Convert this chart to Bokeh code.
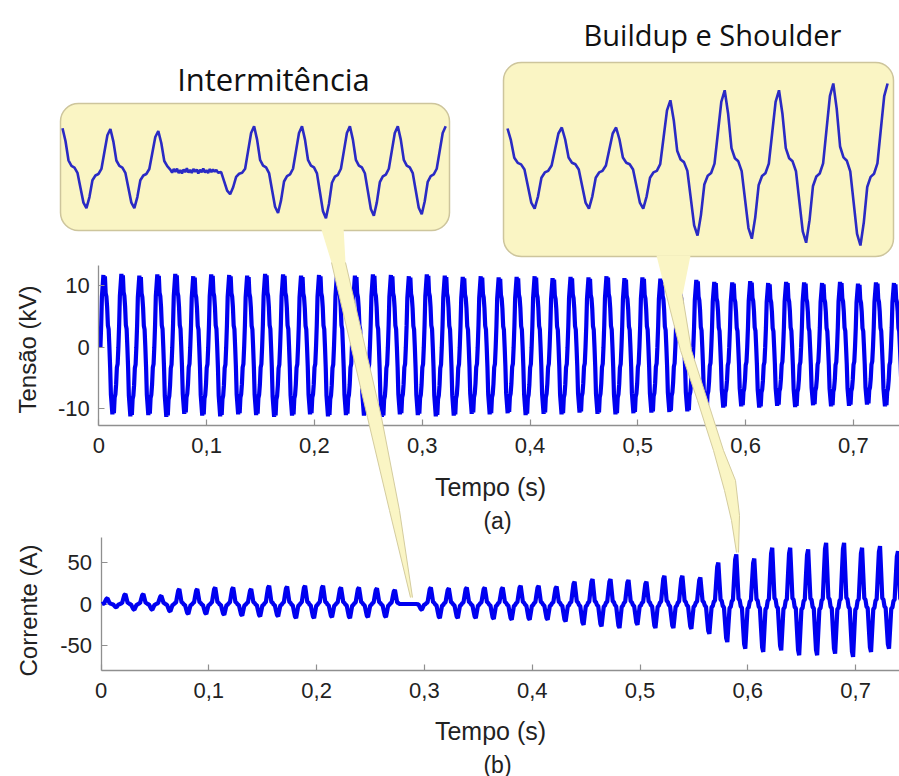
import numpy as np
from bokeh.plotting import figure
from bokeh.models import Range1d, LinearAxis, FixedTicker, Label
from bokeh.embed import file_html
from bokeh.resources import INLINE

W, H = 899, 776

# ------------------------------------------------------------------ data
FREQ = 60.0
TIME_TICKS = [0.0, 0.1, 0.2, 0.3, 0.4, 0.5, 0.6, 0.7]
TIME_TICK_LABELS = ["0", "0,1", "0,2", "0,3", "0,4", "0,5", "0,6", "0,7"]
V_TICKS = [-10, 0, 10]
V_TICK_LABELS = ["-10", "0", "10"]
I_TICKS = [-50, 0, 50]
I_TICK_LABELS = ["-50", "0", "50"]

# voltage: one-cycle shape (normalised) and per-cycle peaks (kV)
V_SHAPE = [0.0, 0.3, 0.7, 0.85, 1.0, 0.8, 0.98, 0.75, 0.7, 0.55, 0.3, 0.25,
           0.0, -0.3, -0.7, -0.85, -1.0, -0.8, -0.98, -0.75, -0.7, -0.55, -0.3, -0.25]
V_POS = [11.7, 11.9, 11.6, 11.8, 11.9, 11.5, 11.8, 11.7, 11.6, 11.9,
         11.8, 11.6, 11.7, 11.9, 11.6, 11.8, 11.7, 11.5, 11.8, 11.6,
         11.4, 11.5, 11.3, 11.4, 11.5, 11.2, 11.4, 11.3, 11.5, 11.2,
         11.3, 11.1, 11.2, 10.9, 10.6, 10.5, 10.7, 10.4, 10.6, 10.5,
         10.4, 10.6, 10.3, 10.5, 10.4, 10.5]
V_NEG = [10.9, 11.2, 11.0, 11.3, 10.8, 11.1, 11.2, 10.9, 11.0, 11.3,
         11.1, 10.9, 11.2, 11.0, 11.1, 11.3, 10.9, 11.0, 11.2, 11.1,
         10.8, 10.9, 10.7, 11.0, 10.8, 10.9, 10.6, 10.8, 10.9, 10.7,
         10.6, 10.5, 10.4, 10.2, 9.8, 9.6, 9.8, 9.5, 9.7, 9.4,
         9.6, 9.5, 9.3, 9.6, 9.4, 9.5]

# current: one-cycle shape (starts at positive peak) and per-cycle peaks (A)
I_SHAPE = [1.0, 0.55, 0.1, 0.08, -0.06, -0.08, -0.5, -0.9,
           -1.0, -0.55, -0.1, -0.08, 0.06, 0.08, 0.5, 0.9]
I_POS = [3, 7, 12, 12, 10, 18, 18, 20, 20, 18,
         22, 21, 22, 22, 20, 20, 19, 17, 0, 20,
         19, 20, 20, 20, 22, 22, 21, 27, 30, 30,
         29, 27, 34, 34, 32, 50, 60, 55, 68, 68,
         66, 74, 74, 68, 70, 64]
I_NEG = [3, 4, 7, 7, 9, 12, 12, 13, 14, 15,
         15, 17, 17, 16, 17, 16, 16, 0, 7, 17,
         17, 17, 18, 19, 19, 19, 21, 25, 27, 29,
         25, 29, 29, 30, 36, 46, 54, 58, 56, 62,
         62, 60, 64, 58, 54, 50]

# callouts: one-cycle shape (starts at positive peak), per-cycle peaks (normalised)
C_SHAPE = [1.0, 0.7, 0.25, 0.12, 0.08, -0.05, -0.45, -0.85,
           -1.0, -0.7, -0.25, -0.12, -0.08, 0.05, 0.45, 0.85]
C1_POS = [1.07, 1.05, 1.0, 0.0, 1.12, 1.12, 1.12, 1.12, 1.12]
C1_NEG = [0.93, 0.93, 0.0, 0.58, 1.05, 1.18, 1.12, 1.08]
C1_FLAT = [0.03, -0.04, 0.05, -0.02, 0.06, -0.05, 0.02, -0.06, 0.04, -0.03,
           0.07, -0.04, 0.03, -0.05, 0.05, -0.02, 0.04, -0.06, 0.03, -0.03,
           0.06, -0.04, 0.02, -0.05, 0.05, -0.03, 0.04, -0.02, 0.03, -0.04]
C2_POS = [0.975, 1.0, 1.0, 1.68, 1.93, 1.93, 2.1, 2.1]
C2_NEG = [1.03, 1.03, 1.03, 1.7, 1.78, 1.88, 1.95]


def build(shape, pos, neg, t0, period):
    n = len(shape)
    t, y = [], []
    for k in range(len(neg)):
        for i, s in enumerate(shape):
            ph = i / n
            if s >= 0:
                amp = pos[min(k + 1, len(pos) - 1)] if ph > 0.5 else pos[k]
            else:
                amp = neg[k]
            t.append(t0 + (k + ph) * period)
            y.append(s * amp)
    if len(pos) > len(neg):
        t.append(t0 + len(neg) * period)
        y.append(shape[0] * pos[len(neg)])
    return np.array(t), np.array(y)


T_END = 0.745
tv, vv = build(V_SHAPE, V_POS, V_NEG, 0.0015, 1 / FREQ)
m = (tv >= 0) & (tv <= T_END)
tv, vv = tv[m], vv[m]
ti, ii = build(I_SHAPE, I_POS, I_NEG, 0.006 - 1 / FREQ, 1 / FREQ)
m = (ti >= 0) & (ti <= T_END)
ti, ii = ti[m], ii[m]

c1x, c1y = build(C_SHAPE, C1_POS, C1_NEG, 0.0, 1.0)
keep = (c1x <= 2.22) | (c1x >= 3.28)
fx = np.linspace(2.22, 3.28, len(C1_FLAT) + 2)[1:-1]
c1x = np.concatenate([c1x[keep], fx])
c1y = np.concatenate([c1y[keep], np.array(C1_FLAT)])
o = np.argsort(c1x)
c1x, c1y = c1x[o], c1y[o]
c2x, c2y = build(C_SHAPE, C2_POS, C2_NEG, 0.0, 1.0)

# ------------------------------------------------------------------ layout anchors (page px)
def xr(a, b):   # page_x = a + b*u
    return Range1d(start=-a / b, end=(W - a) / b)


def yr(a, b):   # page_y = a - b*u
    return Range1d(start=(a - H) / b, end=a / b)


TX0, TXS = 98.3, 1078.0          # top time axis
VY0, VYS = 346.7, 6.17           # voltage axis
BX0, BXS = 100.5, 1078.0         # bottom time axis
IY0, IYS = 603.5, 0.8267         # current axis

p = figure(width=W, height=H, x_range=Range1d(0, W), y_range=Range1d(H, 0),
           x_axis_type=None, y_axis_type=None, toolbar_location=None,
           output_backend="svg", min_border=0, title=None)
p.outline_line_color = None
p.background_fill_color = "white"
p.border_fill_color = "white"

p.extra_x_ranges = {"tt": xr(TX0, TXS), "tb": xr(BX0, BXS),
                    "c1x": xr(62.0, 47.9), "c2x": xr(507.0, 54.3)}
p.extra_y_ranges = {"vv": yr(VY0, VYS), "ii": yr(IY0, IYS),
                    "c1y": yr(170.5, 40.0), "c2y": yr(167.0, 40.0)}

BLUE = "#0000f0"
BOX_FILL = "#faf5c4"
BOX_LINE = "#cdc59c"

# callout boxes
p.quad(left=[60, 503], right=[449, 893], top=[103, 62], bottom=[230, 256],
       fill_color=BOX_FILL, line_color=BOX_LINE, line_width=1.5, border_radius=18)

# callout waveforms
p.line(c1x, c1y, x_range_name="c1x", y_range_name="c1y",
       line_color="#2a2ac4", line_width=2.6)
p.line(c2x, c2y, x_range_name="c2x", y_range_name="c2y",
       line_color="#2a2ac4", line_width=2.6)

# top panel waveform
p.line(tv, vv, x_range_name="tt", y_range_name="vv", line_color=BLUE, line_width=4.2)

# pointers
P1L = ([320, 331, 367, 389, 410], [226, 262, 417, 510, 597])
P1R = ([412, 399, 381, 345, 343], [597, 510, 417, 262, 226])
P2L = ([656, 663, 680, 697, 713, 724, 731, 736], [255, 283, 350, 400, 450, 490, 520, 552])
P2R = ([738, 739, 735, 723, 707, 691, 682, 690], [552, 515, 480, 450, 400, 350, 295, 255])
for L, R in ((P1L, P1R), (P2L, P2R)):
    r = p.patch(L[0] + R[0], L[1] + R[1], fill_color=BOX_FILL, line_color=None)
    r.level = "annotation"
    for e in (L, R):
        r = p.line(e[0][1:] if e is L else e[0][:-1], e[1][1:] if e is L else e[1][:-1],
                   line_color="#d4cc9e", line_width=1)
        r.level = "annotation"

# bottom panel waveform
r = p.line(ti, ii, x_range_name="tb", y_range_name="ii", line_color=BLUE, line_width=4.2)
r.level = "annotation"

# ------------------------------------------------------------------ axes
AX_COL = "#8f8f8f"
TXT_COL = "#222222"


def style(ax, standoff):
    ax.axis_line_color = AX_COL
    ax.axis_line_width = 1.3
    ax.major_tick_line_color = AX_COL
    ax.major_tick_line_width = 1.2
    ax.major_tick_in = 6
    ax.major_tick_out = 0
    ax.minor_tick_line_color = None
    ax.major_label_text_font = "Liberation Sans"
    ax.major_label_text_font_size = "22px"
    ax.major_label_text_color = TXT_COL
    ax.major_label_standoff = standoff


v_lo, v_hi = (VY0 - 425) / VYS, (VY0 - 265) / VYS
i_lo, i_hi = (IY0 - 670) / IYS, (IY0 - 537) / IYS

ay1 = LinearAxis(x_range_name="tt", y_range_name="vv", fixed_location=0.0,
                 bounds=(v_lo, v_hi), ticker=FixedTicker(ticks=V_TICKS),
                 major_label_overrides=dict(zip(V_TICKS, V_TICK_LABELS)))
style(ay1, 9)
p.add_layout(ay1, "left")
ax1 = LinearAxis(x_range_name="tt", y_range_name="vv", fixed_location=v_lo,
                 bounds=(0, (W - TX0) / TXS), ticker=FixedTicker(ticks=TIME_TICKS),
                 major_label_overrides=dict(zip(TIME_TICKS, TIME_TICK_LABELS)))
style(ax1, 12)
p.add_layout(ax1, "below")

ay2 = LinearAxis(x_range_name="tb", y_range_name="ii", fixed_location=0.0,
                 bounds=(i_lo, i_hi), ticker=FixedTicker(ticks=I_TICKS),
                 major_label_overrides=dict(zip(I_TICKS, I_TICK_LABELS)))
style(ay2, 9)
p.add_layout(ay2, "left")
ax2 = LinearAxis(x_range_name="tb", y_range_name="ii", fixed_location=i_lo,
                 bounds=(0, (W - BX0) / BXS), ticker=FixedTicker(ticks=TIME_TICKS),
                 major_label_overrides=dict(zip(TIME_TICKS, TIME_TICK_LABELS)))
style(ax2, 12)
p.add_layout(ax2, "below")

# ------------------------------------------------------------------ texts
def lab(x, y, text, size, font="Liberation Sans", angle=0.0, color=TXT_COL):
    p.add_layout(Label(x=x, y=y, text=text, text_align="center", text_baseline="middle",
                       text_font=font, text_font_size=size, text_color=color, angle=angle))


lab(490, 486, "Tempo (s)", "25px")
lab(497, 520, "(a)", "23px")
lab(490, 730, "Tempo (s)", "25px")
lab(497, 764, "(b)", "23px")
lab(27, 349, "Tensão (kV)", "24px", angle=np.pi / 2)
lab(28, 610, "Corrente (A)", "24px", angle=np.pi / 2)
lab(273, 78, "Intermitência", "31px", font="Open Sans", color="#111111")
lab(712, 34, "Buildup e Shoulder", "29px", font="Open Sans", color="#111111")

open("out.html", "w").write(file_html(p, INLINE))
